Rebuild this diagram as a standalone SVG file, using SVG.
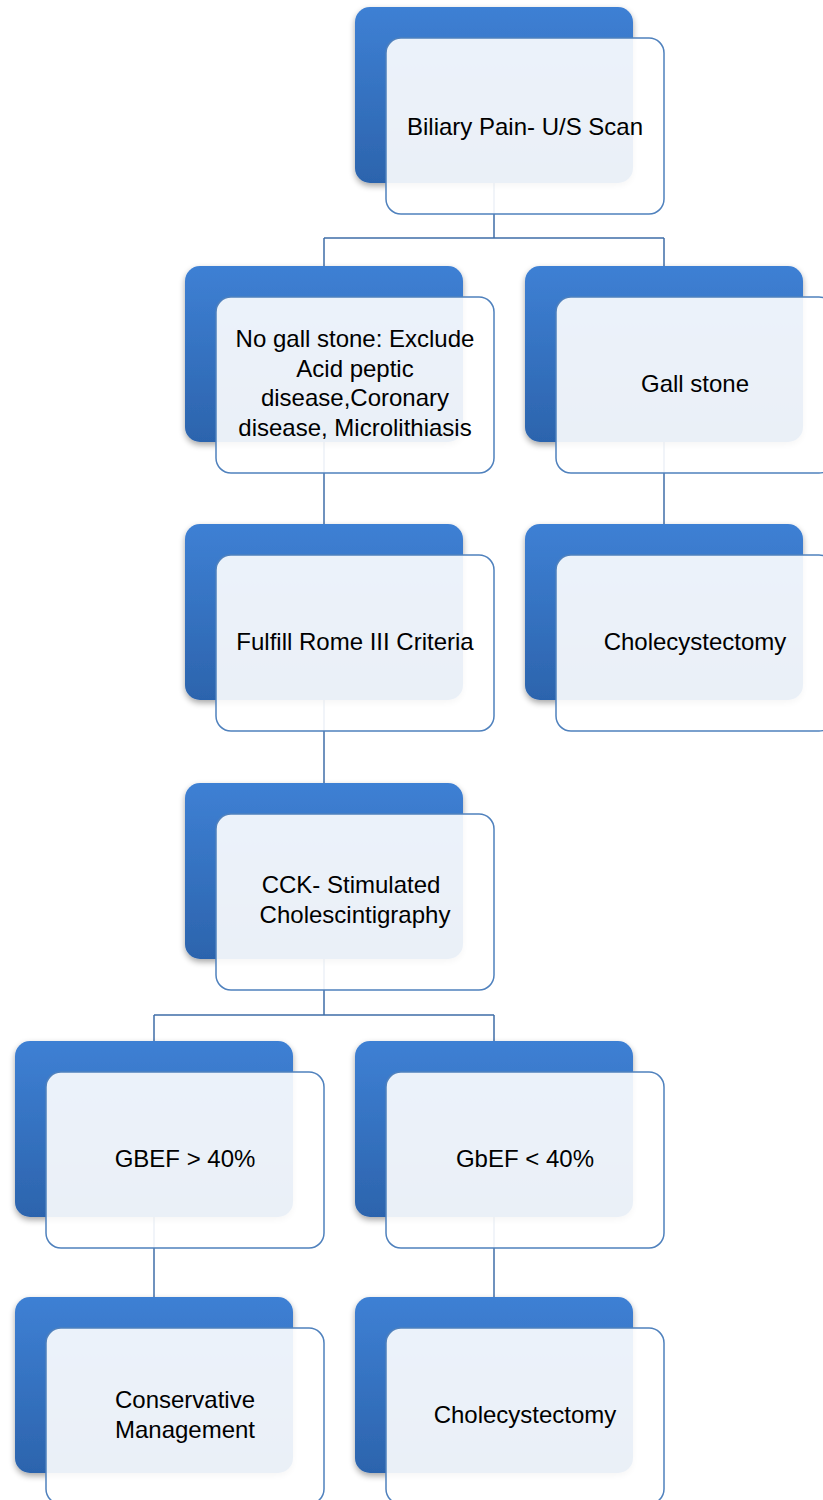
<svg xmlns="http://www.w3.org/2000/svg" width="823" height="1500" viewBox="0 0 823 1500">
<style>
.conn{fill:none;stroke:#3f6ea8;stroke-width:1.5}
.back{fill:url(#blueGrad);filter:url(#sh)}
.front{fill:#ffffff;fill-opacity:0.9;stroke:#4f81bd;stroke-width:1.5}
.t{font-family:"Liberation Sans",Arial,sans-serif;font-size:24px;fill:#000;text-anchor:middle}
</style>
<defs>
<linearGradient id="blueGrad" x1="0" y1="0" x2="0" y2="1">
<stop offset="0" stop-color="#3e80d4"/>
<stop offset="1" stop-color="#2c64ad"/>
</linearGradient>
<filter id="sh" x="-10%" y="-10%" width="125%" height="130%">
<feGaussianBlur in="SourceAlpha" stdDeviation="3"/>
<feOffset dx="0" dy="3" result="b"/>
<feComponentTransfer><feFuncA type="linear" slope="0.35"/></feComponentTransfer>
<feMerge><feMergeNode/><feMergeNode in="SourceGraphic"/></feMerge>
</filter>
</defs>
<rect width="823" height="1500" fill="#ffffff"/>
<g id="connectors">
<path class="conn" d="M494 183 V238 M324 238 H664 M324 238 V266 M664 238 V266"/>
<path class="conn" d="M324 442 V524"/>
<path class="conn" d="M664 442 V524"/>
<path class="conn" d="M324 700 V783"/>
<path class="conn" d="M324 959 V1015 M154 1015 H494 M154 1015 V1041 M494 1015 V1041"/>
<path class="conn" d="M154 1217 V1297"/>
<path class="conn" d="M494 1217 V1297"/>
</g>
<g id="n1">
<rect class="back" x="355" y="7" width="278" height="176" rx="15"/>
<rect class="front" x="386" y="38" width="278" height="176" rx="15"/>
<text class="t" x="525" y="135">Biliary Pain- U/S Scan</text>
</g>
<g id="n2">
<rect class="back" x="185" y="266" width="278" height="176" rx="15"/>
<rect class="front" x="216" y="297" width="278" height="176" rx="15"/>
<text class="t" x="355" y="347">No gall stone: Exclude</text>
<text class="t" x="355" y="376.5">Acid peptic</text>
<text class="t" x="355" y="406">disease,Coronary</text>
<text class="t" x="355" y="435.5">disease, Microlithiasis</text>
</g>
<g id="n3">
<rect class="back" x="525" y="266" width="278" height="176" rx="15"/>
<rect class="front" x="556" y="297" width="278" height="176" rx="15"/>
<text class="t" x="695" y="392">Gall stone</text>
</g>
<g id="n4">
<rect class="back" x="185" y="524" width="278" height="176" rx="15"/>
<rect class="front" x="216" y="555" width="278" height="176" rx="15"/>
<text class="t" x="355" y="650">Fulfill Rome III Criteria</text>
</g>
<g id="n5">
<rect class="back" x="525" y="524" width="278" height="176" rx="15"/>
<rect class="front" x="556" y="555" width="278" height="176" rx="15"/>
<text class="t" x="695" y="650">Cholecystectomy</text>
</g>
<g id="n6">
<rect class="back" x="185" y="783" width="278" height="176" rx="15"/>
<rect class="front" x="216" y="814" width="278" height="176" rx="15"/>
<text class="t" x="351" y="893">CCK- Stimulated</text>
<text class="t" x="355" y="922.5">Cholescintigraphy</text>
</g>
<g id="n7">
<rect class="back" x="15" y="1041" width="278" height="176" rx="15"/>
<rect class="front" x="46" y="1072" width="278" height="176" rx="15"/>
<text class="t" x="185" y="1167">GBEF &gt; 40%</text>
</g>
<g id="n8">
<rect class="back" x="355" y="1041" width="278" height="176" rx="15"/>
<rect class="front" x="386" y="1072" width="278" height="176" rx="15"/>
<text class="t" x="525" y="1167">GbEF &lt; 40%</text>
</g>
<g id="n9">
<rect class="back" x="15" y="1297" width="278" height="176" rx="15"/>
<rect class="front" x="46" y="1328" width="278" height="176" rx="15"/>
<text class="t" x="185" y="1408">Conservative</text>
<text class="t" x="185" y="1437.5">Management</text>
</g>
<g id="n10">
<rect class="back" x="355" y="1297" width="278" height="176" rx="15"/>
<rect class="front" x="386" y="1328" width="278" height="176" rx="15"/>
<text class="t" x="525" y="1423">Cholecystectomy</text>
</g>
</svg>
